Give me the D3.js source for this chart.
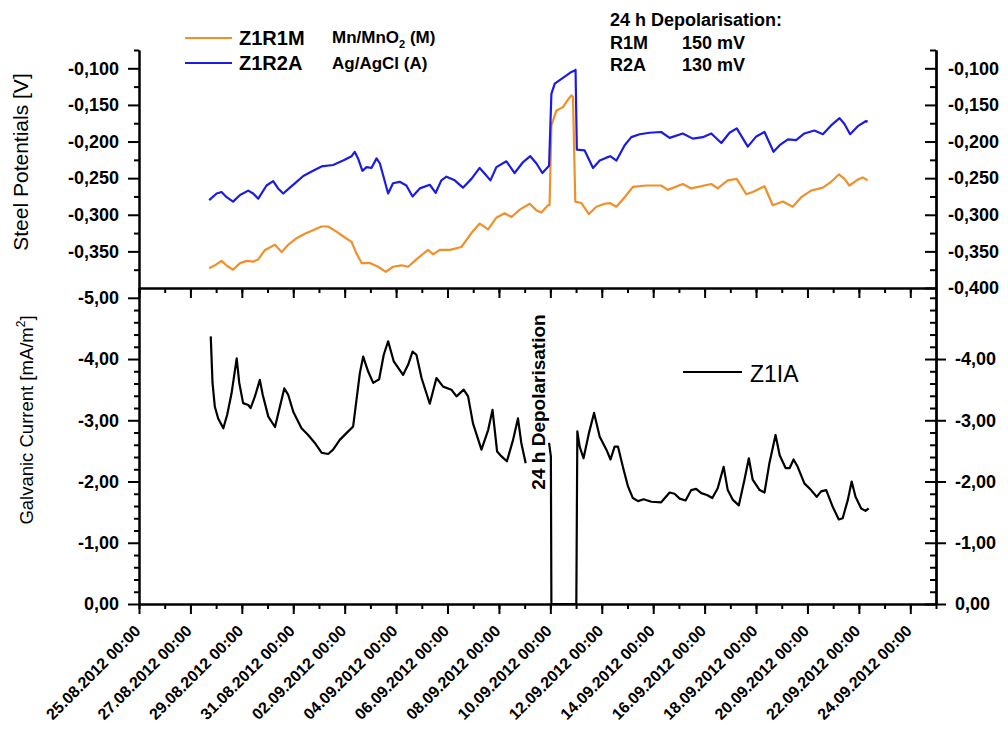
<!doctype html>
<html>
<head>
  <meta charset="utf-8">
  <title>Steel potentials and galvanic current, Z1</title>
  <script src="https://cdnjs.cloudflare.com/ajax/libs/d3/7.8.5/d3.min.js"></script>
  <style>
  body { margin: 0; background: #fff; }
  svg { font-family: "Liberation Sans", Arial, sans-serif; }
  .axis path, .axis line { stroke: #000; stroke-width: 2px; }
  .axis text { font-family: "Liberation Sans", Arial, sans-serif; font-size: 18px; font-weight: bold; fill: #000; }
  .xlab text { font-size: 16px; }
  .line { fill: none; stroke-width: 2.2px; stroke-linejoin: round; }
  </style>
</head>
<body>
  <script>
  // time is given in days after 25.08.2012 00:00
  var r1mDay = [2.73,2.95,3.21,3.43,3.66,3.93,4.19,4.44,4.64,4.90,5.29,5.55,5.80,6.13,6.45,6.77,7.10,7.36,7.68,8.01,
    8.27,8.46,8.66,8.98,9.30,9.60,9.88,10.21,10.47,10.79,11.24,11.44,11.70,12.09,12.54,12.93,13.25,13.58,13.90,14.22,
    14.49,14.81,15.20,15.46,15.65,15.91,15.97,16.04,16.23,16.49,16.68,16.82,16.88,16.97,17.21,17.50,17.79,18.11,18.31,18.57,
    18.89,19.21,19.73,20.31,20.57,21.15,21.48,22.26,22.51,22.90,23.25,23.62,23.87,24.33,24.65,25.04,25.43,25.76,26.14,26.60,
    26.92,27.22,27.44,27.63,27.96,28.15,28.34];
  var r1mVolt = [-0.373,-0.369,-0.363,-0.370,-0.375,-0.366,-0.363,-0.364,-0.361,-0.348,-0.341,-0.351,-0.341,-0.332,-0.326,-0.321,-0.316,-0.316,-0.323,-0.331,
    -0.337,-0.353,-0.366,-0.366,-0.371,-0.378,-0.371,-0.369,-0.371,-0.361,-0.348,-0.354,-0.348,-0.348,-0.344,-0.325,-0.312,-0.320,-0.304,-0.298,
    -0.303,-0.293,-0.285,-0.294,-0.297,-0.287,-0.287,-0.178,-0.158,-0.153,-0.143,-0.137,-0.139,-0.282,-0.284,-0.299,-0.289,-0.285,-0.284,-0.289,
    -0.276,-0.262,-0.260,-0.260,-0.266,-0.258,-0.264,-0.258,-0.264,-0.253,-0.251,-0.272,-0.269,-0.261,-0.287,-0.282,-0.289,-0.276,-0.267,-0.263,
    -0.255,-0.245,-0.251,-0.260,-0.252,-0.249,-0.253];

  var r2aDay = [2.73,3.02,3.21,3.41,3.66,3.93,4.25,4.44,4.64,4.96,5.22,5.41,5.61,5.87,6.13,6.39,6.77,7.10,7.55,7.94,
    8.27,8.39,8.52,8.69,8.85,9.04,9.24,9.37,9.69,9.88,10.14,10.40,10.64,10.92,11.31,11.54,11.76,11.96,12.28,12.60,
    12.93,13.25,13.45,13.67,13.90,14.29,14.61,14.94,15.22,15.46,15.69,15.95,16.04,16.17,16.49,16.82,16.95,16.98,17.03,17.33,
    17.66,17.92,18.18,18.33,18.57,18.89,19.15,19.47,19.86,20.31,20.64,21.15,21.54,21.93,22.26,22.65,22.97,23.25,23.68,24.01,
    24.33,24.68,24.92,25.24,25.56,25.88,26.27,26.60,26.92,27.25,27.44,27.66,27.96,28.28,28.34];
  var r2aVolt = [-0.280,-0.271,-0.269,-0.276,-0.282,-0.273,-0.267,-0.271,-0.278,-0.260,-0.254,-0.264,-0.271,-0.263,-0.255,-0.247,-0.240,-0.234,-0.232,-0.226,
    -0.220,-0.214,-0.223,-0.240,-0.235,-0.236,-0.223,-0.230,-0.271,-0.257,-0.255,-0.260,-0.275,-0.264,-0.259,-0.270,-0.253,-0.248,-0.253,-0.263,
    -0.251,-0.236,-0.244,-0.253,-0.235,-0.227,-0.243,-0.228,-0.220,-0.230,-0.243,-0.233,-0.135,-0.121,-0.113,-0.105,-0.103,-0.102,-0.211,-0.212,
    -0.236,-0.226,-0.222,-0.220,-0.226,-0.205,-0.194,-0.190,-0.188,-0.187,-0.195,-0.189,-0.196,-0.194,-0.189,-0.202,-0.188,-0.182,-0.207,-0.193,
    -0.187,-0.214,-0.205,-0.197,-0.198,-0.189,-0.185,-0.190,-0.178,-0.168,-0.176,-0.190,-0.179,-0.172,-0.173];

  // null = no reading (gap before the depolarisation)
  var z1iaDay = [2.79,2.86,2.95,3.08,3.28,3.43,3.60,3.80,3.90,4.05,4.25,4.34,4.51,4.70,4.81,5.03,5.29,5.48,5.65,5.80,
    6.00,6.32,6.58,6.84,7.10,7.36,7.55,7.81,8.07,8.33,8.59,8.72,8.91,9.11,9.34,9.52,9.69,9.91,10.27,10.47,
    10.64,10.79,10.99,11.31,11.57,11.83,12.15,12.35,12.63,12.80,12.99,13.32,13.58,13.75,13.93,14.10,14.31,14.55,14.74,14.87,
    15.04,15.50,15.95,16.02,16.04,17.01,17.05,17.14,17.29,17.50,17.70,17.92,18.18,18.34,18.50,18.63,18.82,19.02,19.21,19.41,
    19.63,19.93,20.31,20.64,20.83,21.03,21.26,21.48,21.67,21.87,22.09,22.30,22.51,22.74,22.90,23.10,23.33,23.55,23.72,23.87,
    24.14,24.33,24.52,24.76,24.92,25.15,25.31,25.46,25.62,25.88,26.14,26.36,26.53,26.73,26.98,27.22,27.37,27.57,27.72,27.87,
    28.09,28.26,28.38];
  var z1iaCurrent = [-4.37,-3.61,-3.22,-3.03,-2.87,-3.09,-3.44,-4.01,-3.61,-3.28,-3.25,-3.20,-3.39,-3.66,-3.42,-3.06,-2.89,-3.22,-3.52,-3.42,
    -3.14,-2.87,-2.76,-2.63,-2.47,-2.45,-2.52,-2.68,-2.79,-2.90,-3.77,-4.04,-3.80,-3.61,-3.67,-4.07,-4.29,-3.96,-3.74,-3.91,
    -4.12,-4.07,-3.69,-3.27,-3.69,-3.55,-3.50,-3.39,-3.50,-3.39,-2.95,-2.52,-2.84,-3.17,-2.49,-2.41,-2.33,-2.68,-3.03,-2.63,
    -2.30,null,-2.63,-2.41,0,0,-2.82,-2.57,-2.38,-2.79,-3.12,-2.73,-2.52,-2.36,-2.57,-2.57,-2.24,-1.92,-1.73,-1.68,
    -1.71,-1.67,-1.66,-1.82,-1.80,-1.72,-1.69,-1.86,-1.88,-1.81,-1.78,-1.73,-1.89,-2.24,-1.86,-1.70,-1.61,-2.03,-2.38,-2.03,
    -1.86,-1.82,-2.30,-2.76,-2.43,-2.22,-2.22,-2.36,-2.24,-1.97,-1.86,-1.75,-1.84,-1.86,-1.59,-1.38,-1.40,-1.70,-2.00,-1.75,
    -1.56,-1.52,-1.56];

  var dateTicks = ["25.08.2012 00:00","27.08.2012 00:00","29.08.2012 00:00","31.08.2012 00:00","02.09.2012 00:00",
    "04.09.2012 00:00","06.09.2012 00:00","08.09.2012 00:00","10.09.2012 00:00","12.09.2012 00:00","14.09.2012 00:00",
    "16.09.2012 00:00","18.09.2012 00:00","20.09.2012 00:00","22.09.2012 00:00","24.09.2012 00:00"];
  var potTicks = [-0.100,-0.150,-0.200,-0.250,-0.300,-0.350,-0.400];
  var potMinor = [-0.075,-0.125,-0.175,-0.225,-0.275,-0.325,-0.375];
  var curTicks = [0,-1,-2,-3,-4,-5];

  var parse = d3.timeParse("%d.%m.%Y %H:%M"),
    t0 = parse("25.08.2012 00:00"),
    t1 = parse("25.09.2012 00:00");
  function toTime(d) { return d3.timeMinute.offset(t0, Math.round(d * 1440)); }

  var locale = d3.formatLocale({decimal: ",", thousands: ".", grouping: [3], currency: ["", ""], minus: "-"}),
    fmtPot = locale.format(".3f"),
    fmtCur = locale.format(".2f");

  var left = 139, right = 936, plotTop = 50, mid = 288, bottom = 604;

  var svg = d3.select("body").append("svg")
    .attr("width", 1008)
    .attr("height", 729);

  var x = d3.scaleTime().domain([t0, t1]).range([left, right]);
  var yPot = d3.scaleLinear().domain([-0.4, -0.075]).range([mid, plotTop]);
  var yCur = d3.scaleLinear().domain([0, -5.16]).range([bottom, mid]);

  var dayTicks = d3.timeDay.range(t0, d3.timeDay.offset(t1, 1)),
    majorDates = dateTicks.map(parse),
    curMinor = d3.range(0, 26).map(function(i) { return -i * 0.2; })
      .filter(function(v) { return Math.abs(v - Math.round(v)) > 0.01; });

  function axis(gen, scale, values, size, fmt, pad, tx, ty) {
    var a = gen(scale).tickValues(values).tickSize(size).tickSizeOuter(0).tickPadding(pad || 3)
      .tickFormat(fmt || function() { return ""; });
    return svg.append("g")
      .attr("class", "axis")
      .attr("transform", "translate(" + tx + "," + ty + ")")
      .call(a);
  }

  // x axes: bottom of the lower panel and the shared line between the panels
  axis(d3.axisBottom, x, dayTicks, 5, null, 0, 0, bottom);
  var xb = axis(d3.axisBottom, x, majorDates, 10, d3.timeFormat("%d.%m.%Y %H:%M"), 0, 0, bottom).attr("class", "axis xlab");
  xb.selectAll("text")
    .attr("x", 0).attr("y", 0).attr("dy", 0)
    .style("text-anchor", "end")
    .attr("transform", "translate(2,28) rotate(-45)");
  axis(d3.axisBottom, x, dayTicks, 5, null, 0, 0, mid);
  axis(d3.axisBottom, x, majorDates, 10, null, 0, 0, mid);

  // left axes
  axis(d3.axisLeft, yPot, potMinor, 5, null, 0, left, 0);
  axis(d3.axisLeft, yPot, potTicks.slice(0, 6), 11, fmtPot, 9, left, 0);
  axis(d3.axisLeft, yCur, curMinor, 5, null, 0, left, 0);
  axis(d3.axisLeft, yCur, curTicks, 11, fmtCur, 9, left, 0);

  // right axes
  axis(d3.axisLeft, yPot, potMinor, 6, null, 0, right, 0);
  axis(d3.axisLeft, yPot, potTicks, 11, null, 0, right, 0);
  axis(d3.axisRight, yPot, potTicks, 0, fmtPot, 12, right, 0);
  axis(d3.axisLeft, yCur, curMinor.concat([-5]), 6, null, 0, right, 0);
  axis(d3.axisLeft, yCur, curTicks.slice(0, 5), 11, null, 0, right, 0);
  axis(d3.axisRight, yCur, curTicks.slice(0, 5), 10, fmtCur, 9, right, 0);

  // series
  function series(days, vals) {
    return days.map(function(d, i) { return {t: toTime(d), v: vals[i]}; });
  }
  var potLine = d3.line()
    .x(function(d) { return x(d.t); })
    .y(function(d) { return yPot(d.v); });
  var curLine = d3.line()
    .defined(function(d) { return d.v !== null; })
    .x(function(d) { return x(d.t); })
    .y(function(d) { return yCur(d.v); });

  var orange = "#f0902a", blue = "#1c1ce0";

  svg.append("path").datum(series(r1mDay, r1mVolt))
    .attr("class", "line").attr("stroke", orange).attr("d", potLine);
  svg.append("path").datum(series(r2aDay, r2aVolt))
    .attr("class", "line").attr("stroke", blue).attr("d", potLine);
  svg.append("path").datum(series(z1iaDay, z1iaCurrent))
    .attr("class", "line").attr("stroke", "#000").attr("d", curLine);

  // axis titles
  svg.append("text")
    .attr("transform", "translate(28,162) rotate(-90)")
    .attr("text-anchor", "middle")
    .attr("font-size", 21)
    .text("Steel Potentials [V]");
  var gt = svg.append("text")
    .attr("transform", "translate(33,420) rotate(-90)")
    .attr("text-anchor", "middle")
    .attr("font-size", 18.5);
  gt.append("tspan").text("Galvanic Current [mA/m");
  gt.append("tspan").attr("dy", -8).attr("font-size", 12).text("2");
  gt.append("tspan").attr("dy", 8).text("]");

  // legend of the upper panel
  var leg = svg.append("g").attr("font-weight", "bold");
  leg.append("line").attr("x1", 185).attr("x2", 232).attr("y1", 38).attr("y2", 38)
    .attr("stroke", orange).attr("stroke-width", 2.2);
  leg.append("line").attr("x1", 185).attr("x2", 232).attr("y1", 63).attr("y2", 63)
    .attr("stroke", blue).attr("stroke-width", 2.2);
  leg.append("text").attr("x", 239).attr("y", 45).attr("font-size", 20).text("Z1R1M");
  leg.append("text").attr("x", 239).attr("y", 70).attr("font-size", 20).text("Z1R2A");
  var mn = leg.append("text").attr("x", 332).attr("y", 43).attr("font-size", 17);
  mn.append("tspan").text("Mn/MnO");
  mn.append("tspan").attr("dy", 5).attr("font-size", 11).text("2");
  mn.append("tspan").attr("dy", -5).text(" (M)");
  leg.append("text").attr("x", 332).attr("y", 69).attr("font-size", 17).text("Ag/AgCl (A)");

  // depolarisation note
  var note = svg.append("g").attr("font-weight", "bold").attr("font-size", 18);
  note.append("text").attr("x", 610).attr("y", 26).text("24 h Depolarisation:");
  note.append("text").attr("x", 610).attr("y", 49).text("R1M");
  note.append("text").attr("x", 682).attr("y", 49).text("150 mV");
  note.append("text").attr("x", 610).attr("y", 71).text("R2A");
  note.append("text").attr("x", 682).attr("y", 71).text("130 mV");

  svg.append("text")
    .attr("transform", "translate(545,402) rotate(-90)")
    .attr("text-anchor", "middle")
    .attr("font-size", 19)
    .attr("font-weight", "bold")
    .text("24 h Depolarisation");

  // legend of the lower panel
  svg.append("line").attr("x1", 683).attr("x2", 742).attr("y1", 372).attr("y2", 372)
    .attr("stroke", "#000").attr("stroke-width", 2.2);
  svg.append("text").attr("x", 750).attr("y", 382).attr("font-size", 23).text("Z1IA");
  </script>
</body>
</html>
